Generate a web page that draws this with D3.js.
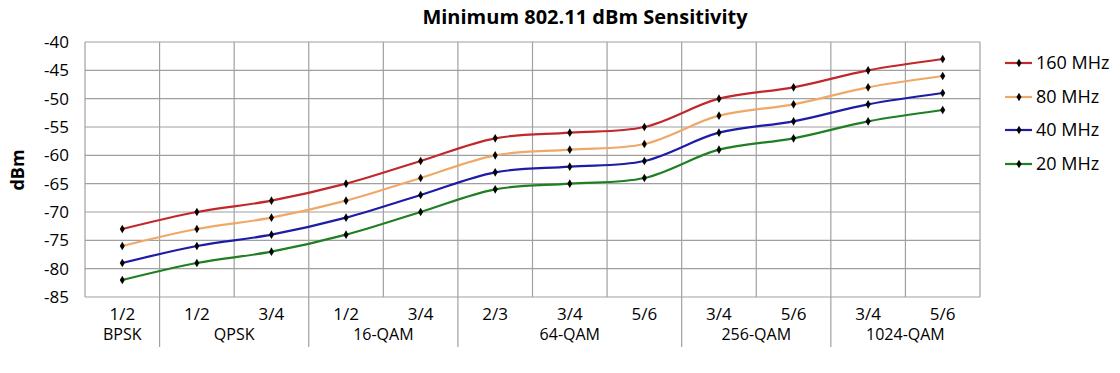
<!DOCTYPE html>
<html><head><meta charset="utf-8">
<script src="https://cdn.jsdelivr.net/npm/d3@7"></script>
<style>body{margin:0;background:#fff}svg{display:block}text{font-family:"Open Sans","Noto Sans",sans-serif}</style>
</head><body><svg id="c" width="1120" height="373"></svg>
<script>
const rates = ["1/2","1/2","3/4","1/2","3/4","2/3","3/4","5/6","3/4","5/6","3/4","5/6"];
const groups = [
  {name:"BPSK", start:0, end:1},
  {name:"QPSK", start:1, end:3},
  {name:"16-QAM", start:3, end:5},
  {name:"64-QAM", start:5, end:8},
  {name:"256-QAM", start:8, end:10},
  {name:"1024-QAM", start:10, end:12}
];
const yTicks = [-40,-45,-50,-55,-60,-65,-70,-75,-80,-85];
const s160 = [-73,-70,-68,-65,-61,-57,-56,-55,-50,-48,-45,-43];
const s80  = [-76,-73,-71,-68,-64,-60,-59,-58,-53,-51,-48,-46];
const s40  = [-79,-76,-74,-71,-67,-63,-62,-61,-56,-54,-51,-49];
const s20  = [-82,-79,-77,-74,-70,-66,-65,-64,-59,-57,-54,-52];
const seriesNames = ["160 MHz","80 MHz","40 MHz","20 MHz"];
const seriesColors = ["#c0282b","#f0a868","#1c1ca6","#1f7f22"];
const seriesData = [s160,s80,s40,s20];

const svg = d3.select("#c");
const L=85, R=980, T=42, B=297;
const x = d3.scaleLinear().domain([0,12]).range([L,R]);
const y = d3.scaleLinear().domain([-85,-40]).range([B,T]);
const grid = "#a0a0a0";

svg.append("g").selectAll("line").data(yTicks).join("line")
  .attr("x1",L).attr("x2",R).attr("y1",d=>y(d)).attr("y2",d=>y(d))
  .attr("stroke",grid).attr("stroke-width",1.2);
svg.append("g").selectAll("line").data(d3.range(13)).join("line")
  .attr("x1",d=>x(d)).attr("x2",d=>x(d)).attr("y1",T).attr("y2",B)
  .attr("stroke",grid).attr("stroke-width",1.2);
svg.append("g").selectAll("line").data(groups.slice(1)).join("line")
  .attr("x1",d=>x(d.start)).attr("x2",d=>x(d.start)).attr("y1",B).attr("y2",347)
  .attr("stroke",grid).attr("stroke-width",1.2);

svg.append("g").selectAll("text").data(yTicks).join("text")
  .attr("x",69).attr("y",d=>y(d)).attr("dy","0.35em").attr("text-anchor","end")
  .attr("font-size",17).attr("fill","#000").text(d=>d);

svg.append("g").selectAll("text").data(rates).join("text")
  .attr("x",(d,i)=>x(i+0.5)).attr("y",320).attr("text-anchor","middle")
  .attr("font-size",17).text(d=>d);
svg.append("g").selectAll("text").data(groups).join("text")
  .attr("x",d=>x((d.start+d.end)/2)).attr("y",340).attr("text-anchor","middle")
  .attr("font-size",16).text(d=>d.name);

svg.append("text").attr("x",585).attr("y",24).attr("text-anchor","middle")
  .attr("font-size",20).attr("font-weight","bold").text("Minimum 802.11 dBm Sensitivity");
svg.append("text").attr("transform","translate(24,170) rotate(-90)").attr("text-anchor","middle")
  .attr("font-size",18).attr("font-weight","bold").text("dBm");

const line = d3.line().x((d,i)=>x(i+0.5)).y(d=>y(d)).curve(d3.curveCatmullRom.alpha(0.5));
const diamond = d3.symbol().type(d3.symbolDiamond).size(22);
seriesData.forEach((s,k)=>{
  svg.append("path").attr("d",line(s)).attr("fill","none")
    .attr("stroke",seriesColors[k]).attr("stroke-width",2.2);
  svg.append("g").selectAll("path").data(s).join("path")
    .attr("transform",(d,i)=>`translate(${x(i+0.5)},${y(d)})`)
    .attr("d",diamond).attr("fill","#000");
});

const ly = [63,97,130,164];
seriesNames.forEach((n,k)=>{
  const g = svg.append("g").attr("transform",`translate(1005,${ly[k]})`);
  g.append("line").attr("x1",0).attr("x2",27).attr("stroke",seriesColors[k]).attr("stroke-width",2.2);
  g.append("path").attr("transform","translate(14,0)").attr("d",diamond).attr("fill","#000");
  g.append("text").attr("x",31).attr("dy","0.35em").attr("font-size",18).text(n);
});
</script></body></html>
